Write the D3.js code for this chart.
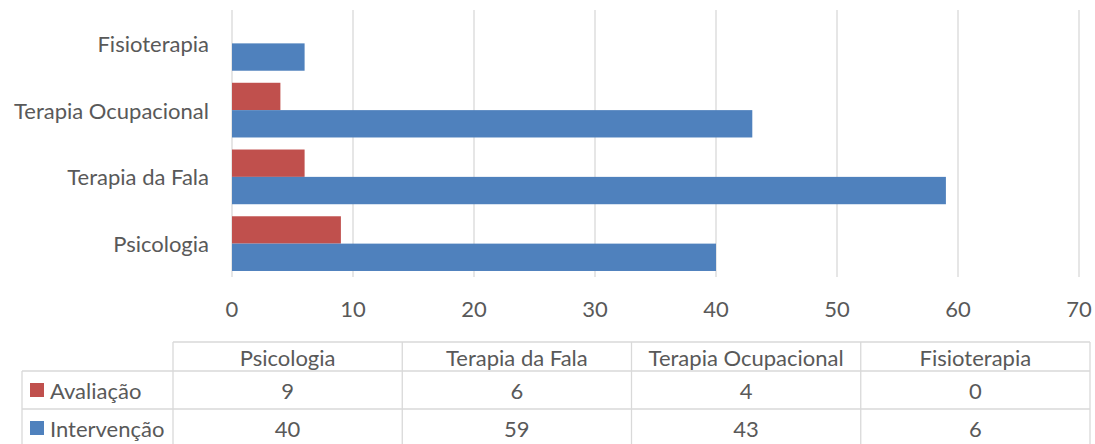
<!DOCTYPE html>
<html>
<head>
<meta charset="utf-8">
<script src="https://cdn.jsdelivr.net/npm/d3@7"></script>
<style>
  html, body { margin: 0; padding: 0; background: #fff; }
  svg { display: block; font-family: Lato, "Open Sans", sans-serif; }
</style>
</head>
<body>
<svg id="chart" width="1095" height="444"></svg>
<script>
// ---- 数据 ----
const categories = ["Psicologia", "Terapia da Fala", "Terapia Ocupacional", "Fisioterapia"];
const seriesNames = ["Avaliação", "Intervenção"];
const avaliacao = [9, 6, 4, 0];
const intervencao = [40, 59, 43, 6];
const xTicks = [0, 10, 20, 30, 40, 50, 60, 70];
const seriesColors = ["#C0504D", "#4F81BD"];

const svg = d3.select("#chart");
const textColor = "#595959", gridColor = "#D9D9D9";
const fs = "22px";

// 绘图区
const x = d3.scaleLinear().domain([0, 70]).range([232, 1079]);
// 条形图从下往上排：Psicologia 在最下
const y = d3.scaleBand().domain(categories.slice().reverse()).range([10, 277]);
const ySub = d3.scaleBand().domain(seriesNames).range([0, y.bandwidth()])
  .paddingInner(0).paddingOuter(0.22);

// 网格线
svg.append("g").selectAll("line").data(xTicks).join("line")
  .attr("x1", d => x(d)).attr("x2", d => x(d))
  .attr("y1", 10).attr("y2", 277)
  .attr("stroke", gridColor).attr("stroke-width", 1.3);

// 条形
const values = [avaliacao, intervencao];
seriesNames.forEach((s, si) => {
  svg.append("g").selectAll("rect").data(categories).join("rect")
    .attr("x", x(0))
    .attr("y", c => y(c) + ySub(s))
    .attr("width", (c, i) => x(values[si][i]) - x(0))
    .attr("height", ySub.bandwidth())
    .attr("fill", seriesColors[si]);
});

// 类别标签
svg.append("g").selectAll("text").data(categories).join("text")
  .attr("x", 209).attr("y", c => y(c) + y.bandwidth() / 2)
  .attr("text-anchor", "end").attr("dominant-baseline", "central")
  .attr("fill", textColor).style("font-size", fs).text(c => c);

// x 轴刻度标签
svg.append("g").selectAll("text").data(xTicks).join("text")
  .attr("x", d => x(d)).attr("y", 308)
  .attr("text-anchor", "middle").attr("dominant-baseline", "central")
  .attr("fill", textColor).style("font-size", fs).text(d => d);

// ---- 数据表 ----
const tblLeft = 22, colStart = 173, tblRight = 1090;
const col = d3.scaleBand().domain(categories).range([colStart, tblRight]);
const rowLines = [342, 371, 409, 447];
const tg = svg.append("g").attr("stroke", gridColor).attr("stroke-width", 1.3);
tg.append("line").attr("x1", colStart).attr("x2", tblRight).attr("y1", rowLines[0]).attr("y2", rowLines[0]);
rowLines.slice(1).forEach(r => {
  tg.append("line").attr("x1", tblLeft).attr("x2", tblRight).attr("y1", r).attr("y2", r);
});
tg.append("line").attr("x1", tblLeft).attr("x2", tblLeft).attr("y1", rowLines[1]).attr("y2", rowLines[3]);
categories.concat([null]).forEach(c => {
  const xx = c ? col(c) : tblRight;
  tg.append("line").attr("x1", xx).attr("x2", xx).attr("y1", rowLines[0]).attr("y2", rowLines[3]);
});

// 表头
svg.append("g").selectAll("text").data(categories).join("text")
  .attr("x", c => col(c) + col.bandwidth() / 2).attr("y", (rowLines[0] + rowLines[1]) / 2 + 1)
  .attr("text-anchor", "middle").attr("dominant-baseline", "central")
  .attr("fill", textColor).style("font-size", fs).text(c => c);

// 数据行 + 图例
seriesNames.forEach((s, si) => {
  const cy = (rowLines[si + 1] + rowLines[si + 2]) / 2;
  svg.append("rect").attr("x", 30).attr("y", cy - 7).attr("width", 14).attr("height", 14)
    .attr("fill", seriesColors[si]);
  svg.append("text").attr("x", 50).attr("y", cy).attr("dominant-baseline", "central")
    .attr("fill", textColor).style("font-size", fs).text(s);
  svg.append("g").selectAll("text").data(categories).join("text")
    .attr("x", c => col(c) + col.bandwidth() / 2).attr("y", cy)
    .attr("text-anchor", "middle").attr("dominant-baseline", "central")
    .attr("fill", textColor).style("font-size", fs)
    .text((c, i) => values[si][i]);
});
</script>
</body>
</html>
